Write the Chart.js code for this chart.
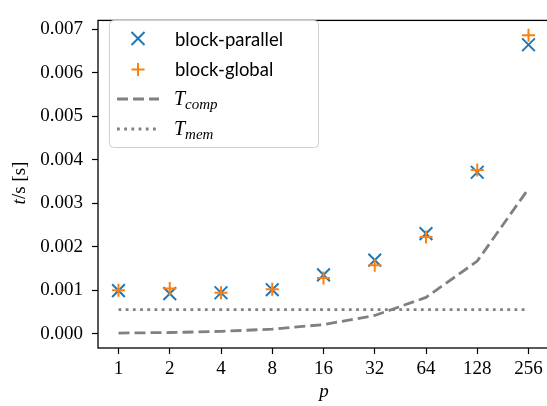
<!DOCTYPE html>
<html>
<head>
<meta charset="utf-8">
<script src="https://cdn.jsdelivr.net/npm/chart.js@4"></script>
<style>
html, body { margin: 0; padding: 0; overflow: hidden; background: #fff; }
#wrap { width: 560px; height: 406px; }
</style>
</head>
<body>
<div id="wrap"><canvas id="chart" width="560" height="406"></canvas></div>
<script>
// data
var pLabels = ['1', '2', '4', '8', '16', '32', '64', '128', '256'];
var blockParallel = [0.00099, 0.00092, 0.00094, 0.00101, 0.00135, 0.00169, 0.00230, 0.00371, 0.00664];
var blockGlobal = [0.00100, 0.00104, 0.00094, 0.00102, 0.00128, 0.00157, 0.00222, 0.00376, 0.00686];
var tComp = [0.000013, 0.000026, 0.000052, 0.000104, 0.000208, 0.000417, 0.000833, 0.001667, 0.003333];
var tMem = [0.00055, 0.00055, 0.00055, 0.00055, 0.00055, 0.00055, 0.00055, 0.00055, 0.00055];
var yTicks = [0, 0.001, 0.002, 0.003, 0.004, 0.005, 0.006, 0.007];

var BLUE = '#1f77b4', ORANGE = '#ff7f0e', GRAY = '#808080';
var SERIF = '"Liberation Serif", "DejaVu Serif", serif';

function pts(arr) {
  var out = [];
  for (var i = 0; i < arr.length; i++) out.push({ x: i, y: arr[i] });
  return out;
}

var framePlugin = {
  id: 'frame',
  afterDatasetsDraw: function(chart) {
    var a = chart.chartArea, ctx = chart.ctx;
    ctx.save();
    ctx.strokeStyle = '#000';
    ctx.lineWidth = 1.3;
    ctx.strokeRect(a.left, a.top, a.right - a.left, a.bottom - a.top);
    ctx.restore();
  }
};

var titlesPlugin = {
  id: 'titles',
  afterDraw: function(chart) {
    var ctx = chart.ctx;
    ctx.save();
    ctx.fillStyle = '#000';
    // x title
    ctx.font = 'italic 19px ' + SERIF;
    ctx.textAlign = 'center';
    ctx.textBaseline = 'alphabetic';
    ctx.fillText('p', 324, 397);
    // y title: t/s [s]
    ctx.translate(25, 183);
    ctx.rotate(-Math.PI / 2);
    ctx.textAlign = 'left';
    ctx.font = 'italic 19px ' + SERIF;
    var w1 = ctx.measureText('t').width;
    ctx.font = '19px ' + SERIF;
    var w2 = ctx.measureText('/s [s]').width;
    var x0 = -(w1 + w2) / 2;
    ctx.font = 'italic 19px ' + SERIF;
    ctx.fillText('t', x0, 0);
    ctx.font = '19px ' + SERIF;
    ctx.fillText('/s [s]', x0 + w1, 0);
    ctx.restore();
  }
};

var legendPlugin = {
  id: 'customLegend',
  afterDraw: function(chart) {
    var ctx = chart.ctx;
    ctx.save();
    ctx.beginPath();
    ctx.roundRect(109.5, 20.5, 209, 127, 4);
    ctx.fillStyle = 'rgba(255,255,255,0.8)';
    ctx.fill();
    ctx.strokeStyle = '#d0d0d0';
    ctx.lineWidth = 1;
    ctx.stroke();

    var mx = 138, h = 6.5;
    ctx.lineWidth = 2;
    // x marker
    ctx.strokeStyle = BLUE;
    ctx.beginPath();
    ctx.moveTo(mx - h, 38.5 - h); ctx.lineTo(mx + h, 38.5 + h);
    ctx.moveTo(mx - h, 38.5 + h); ctx.lineTo(mx + h, 38.5 - h);
    ctx.stroke();
    // + marker
    ctx.strokeStyle = ORANGE;
    ctx.beginPath();
    ctx.moveTo(mx - h, 69.5); ctx.lineTo(mx + h, 69.5);
    ctx.moveTo(mx, 69.5 - h); ctx.lineTo(mx, 69.5 + h);
    ctx.stroke();
    // dashed
    ctx.strokeStyle = GRAY;
    ctx.lineWidth = 2.8;
    ctx.setLineDash([11, 5]);
    ctx.beginPath(); ctx.moveTo(117, 99); ctx.lineTo(159, 99); ctx.stroke();
    // dotted
    ctx.setLineDash([2.8, 4.4]);
    ctx.beginPath(); ctx.moveTo(117, 129); ctx.lineTo(159, 129); ctx.stroke();
    ctx.setLineDash([]);

    ctx.fillStyle = '#000';
    ctx.textAlign = 'left';
    ctx.textBaseline = 'alphabetic';
    ctx.font = '18.5px Lato';
    ctx.fillText(chart.data.datasets[0].label, 175, 45.5);
    ctx.fillText(chart.data.datasets[1].label, 175, 75.5);

    var subs = [['comp', 105], ['mem', 135]];
    for (var i = 0; i < subs.length; i++) {
      ctx.font = 'italic 20px ' + SERIF;
      ctx.fillText('T', 174, subs[i][1]);
      var tw = ctx.measureText('T').width;
      ctx.font = 'italic 15px ' + SERIF;
      ctx.fillText(subs[i][0], 174 + tw, subs[i][1] + 4);
    }
    ctx.restore();
  }
};

new Chart(document.getElementById('chart'), {
  type: 'scatter',
  data: {
    datasets: [
      { label: 'block-parallel', data: pts(blockParallel), pointStyle: 'crossRot', pointRadius: 9, pointBorderColor: BLUE, pointBorderWidth: 2, borderColor: BLUE, order: 4 },
      { label: 'block-global', data: pts(blockGlobal), pointStyle: 'cross', pointRadius: 6.5, pointBorderColor: ORANGE, pointBorderWidth: 2, borderColor: ORANGE, order: 3 },
      { label: 'T_comp', data: pts(tComp), showLine: true, pointRadius: 0, borderColor: GRAY, borderWidth: 2.8, borderDash: [11, 5], order: 2 },
      { label: 'T_mem', data: pts(tMem), showLine: true, pointRadius: 0, borderColor: GRAY, borderWidth: 2.8, borderDash: [2.8, 4.4], order: 1 }
    ]
  },
  options: {
    responsive: false,
    animation: false,
    layout: { padding: { top: 11, right: 9, left: 0, bottom: 0 } },
    plugins: { legend: { display: false }, tooltip: { enabled: false } },
    scales: {
      x: {
        type: 'linear',
        min: -0.4,
        max: 8.4,
        afterBuildTicks: function(axis) { axis.ticks = pLabels.map(function(_, i) { return { value: i }; }); },
        afterFit: function(axis) { axis.height = 58; },
        grid: { drawOnChartArea: false, drawTicks: true, tickLength: 6, tickColor: '#000', tickWidth: 1.2 },
        border: { display: false },
        ticks: { autoSkip: false, maxRotation: 0, padding: 4, color: '#000', font: { family: SERIF, size: 19 },
          callback: function(v) { return pLabels[v]; } }
      },
      y: {
        min: -0.00033,
        max: 0.0072,
        afterBuildTicks: function(axis) { axis.ticks = yTicks.map(function(v) { return { value: v }; }); },
        afterFit: function(axis) { axis.width = 98; },
        grid: { drawOnChartArea: false, drawTicks: true, tickLength: 6, tickColor: '#000', tickWidth: 1.2 },
        border: { display: false },
        ticks: { padding: 9, color: '#000', font: { family: SERIF, size: 19 },
          callback: function(v) { return v.toFixed(3); } }
      }
    }
  },
  plugins: [framePlugin, titlesPlugin, legendPlugin]
});
</script>
</body>
</html>
